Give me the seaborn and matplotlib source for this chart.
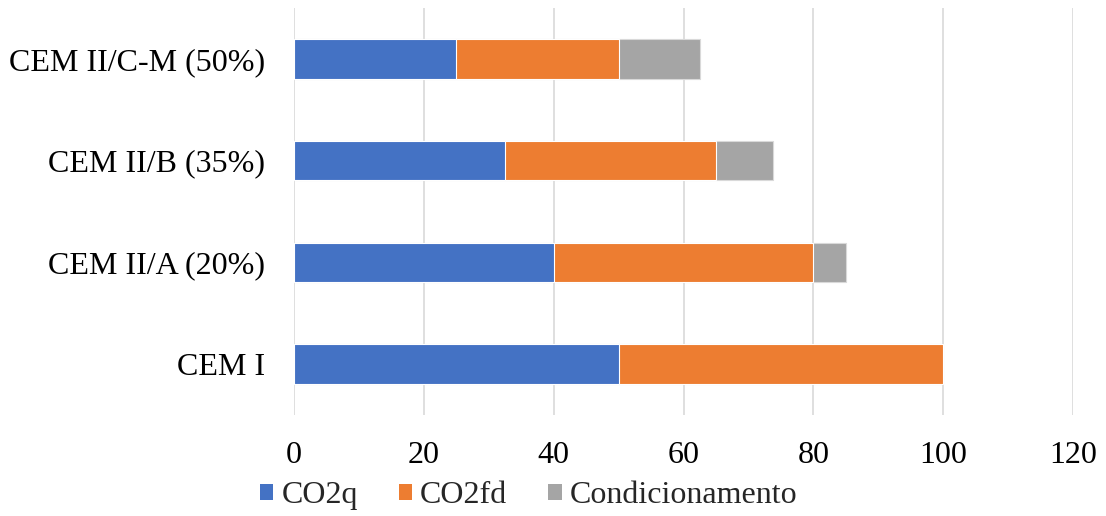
import matplotlib
matplotlib.use("Agg")
import matplotlib.pyplot as plt
import seaborn as sns
import pandas as pd
import numpy as np
from matplotlib.patches import Patch

categories = ["CEM II/C-M (50%)", "CEM II/B (35%)", "CEM II/A (20%)", "CEM I"]
co2q = [25, 32.5, 40, 50]
co2fd = [25, 32.5, 40, 50]
condicionamento = [12.5, 8.75, 5, 0]
series_names = ["CO2q", "CO2fd", "Condicionamento"]
colors = ["#4472C4", "#ED7D31", "#A5A5A5"]
x_ticks = [0, 20, 40, 60, 80, 100, 120]

sns.set_theme(style="white")
plt.rcParams["font.family"] = ["Liberation Serif", "DejaVu Serif"]

df = pd.DataFrame({"cat": categories, "q": co2q, "fd": co2fd, "cond": condicionamento})
df["s1"] = df["q"]
df["s2"] = df["q"] + df["fd"]
df["s3"] = df["s2"] + df["cond"]

fig = plt.figure(figsize=(11.06, 5.16), dpi=100)
ax = fig.add_axes([0.2658, 0.1957, 0.9702 - 0.2658, 0.9845 - 0.1957])

# stacked bars: draw cumulative totals from the outermost segment inward
for col, color in zip(["s3", "s2", "s1"], colors[::-1]):
    sns.barplot(data=df, x=col, y="cat", order=categories, color=color,
                width=0.39, orient="h", ax=ax, saturation=1,
                edgecolor="#D9D9D9" if col == "s3" else "white", linewidth=0.8)

ax.set_xlim(0, 120)
ax.set_ylim(3.5, -0.5)
ax.set_xticks(x_ticks)
ax.set_xticklabels([str(t) for t in x_ticks])
ax.set_xlabel("")
ax.set_ylabel("")
ax.xaxis.grid(True, color="#D9D9D9", linewidth=1.2)
ax.yaxis.grid(False)
ax.set_axisbelow(True)
for s in ax.spines.values():
    s.set_visible(False)
ax.tick_params(axis="x", length=0, pad=19, labelsize=23, colors="black")
ax.tick_params(axis="y", length=0, pad=21, labelsize=23, colors="black")

handles = [Patch(facecolor=c, edgecolor="none") for c in colors]
fig.legend(handles, series_names, loc="center", bbox_to_anchor=(0.478, 0.039),
           ncol=3, frameon=False, fontsize=23, handlelength=0.42, handleheight=0.42,
           handletextpad=0.25, columnspacing=1.28, borderaxespad=0)

fig.savefig("out.png", dpi=100)
